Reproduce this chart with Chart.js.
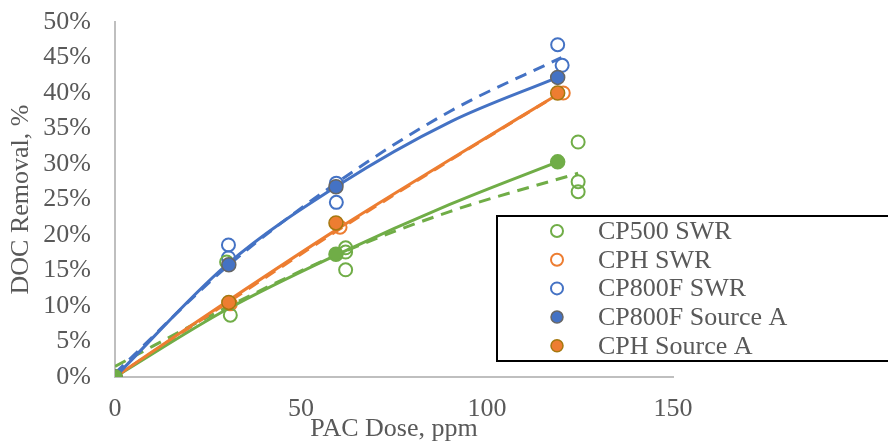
<!DOCTYPE html>
<html>
<head>
<meta charset="utf-8">
<script src="https://cdn.jsdelivr.net/npm/chart.js@4.4.1/dist/chart.umd.min.js"></script>
<style>
  html, body { margin: 0; padding: 0; background: #fff; }
  #wrap { width: 888px; height: 445px; position: relative; overflow: hidden; }
</style>
</head>
<body>
<div id="wrap"><canvas id="pacChart"></canvas></div>
<script>
// PAC dose (ppm) vs DOC removal (%)
var cp500SwrDose     = [0, 30, 31, 62, 62, 62, 124.5, 124.5, 124.5];
var cp500SwrRemoval  = [0, 16.2, 8.7, 18.2, 17.6, 15.1, 33.1, 27.5, 26.1];
var cphSwrDose       = [0, 31, 60.5, 120.5];
var cphSwrRemoval    = [0, 10.3, 21.1, 40.0];
var cp800fSwrDose    = [0, 30.5, 30.5, 59.5, 59.5, 119, 120.2];
var cp800fSwrRemoval = [0, 18.6, 16.8, 27.3, 24.6, 46.8, 43.9];

var sourceADose      = [0, 30.6, 59.4, 119];
var cp800fSourceA    = [0, 15.8, 26.8, 42.2];
var cphSourceA       = [0, 10.5, 21.7, 40.0];
var cp500SourceADose = [0, 59.4, 119];
var cp500SourceA     = [0, 17.3, 30.3];

// trendlines: solid = Source A runs, dashed = SWR runs
var fitDose          = [0, 30, 60, 90, 119];
var cp800fAFit       = [0, 15.8, 27.0, 35.9, 42.2];
var cphAFit          = [0, 10.6, 20.9, 30.6, 39.8];
var cp500AFit        = [0, 9.5, 17.3, 24.3, 30.3];
var swrFitDose       = [0, 30, 60, 90, 120];
var cp800fSwrFit     = [0.5, 15.5, 27.5, 37.4, 45.0];
var cphSwrFit        = [0, 10.4, 20.7, 30.5, 40.1];
var cp500SwrFitDose  = [0, 30, 60, 90, 124.5];
var cp500SwrFit      = [1.5, 9.8, 17.3, 23.3, 28.7];

var xTicks = [0, 50, 100, 150];

var BLUE = '#4472C4', ORANGE = '#ED7D31', GREEN = '#70AD47', TEXT = '#595959';
var FONT_FAMILY = '"Liberation Serif", "Times New Roman", serif';

function pts(xs, ys) {
  return xs.map(function (x, i) { return { x: x, y: ys[i] }; });
}

function openSeries(label, xs, ys, color, row) {
  return {
    label: label, data: pts(xs, ys), showLine: false,
    pointStyle: 'circle', pointRadius: 6.5, pointBorderWidth: 2,
    pointBackgroundColor: 'rgba(0,0,0,0)', pointBorderColor: color,
    legendRow: row, order: 3
  };
}

function filledSeries(label, xs, ys, fill, edge, row, order) {
  return {
    label: label, data: pts(xs, ys), showLine: false,
    pointStyle: 'circle', pointRadius: 7, pointBorderWidth: 1.5,
    pointBackgroundColor: fill, pointBorderColor: edge,
    legendRow: row, order: order
  };
}

function fitLine(xs, ys, color, dashed) {
  return {
    label: '', data: pts(xs, ys), showLine: true,
    borderColor: color, borderWidth: 3,
    borderDash: dashed ? [12, 8] : [],
    cubicInterpolationMode: 'monotone',
    pointRadius: 0, pointHoverRadius: 0, order: 2
  };
}

var datasets = [
  openSeries('CP500 SWR', cp500SwrDose, cp500SwrRemoval, GREEN, 0),
  openSeries('CPH SWR', cphSwrDose, cphSwrRemoval, ORANGE, 1),
  openSeries('CP800F SWR', cp800fSwrDose, cp800fSwrRemoval, BLUE, 2),
  filledSeries('CP800F Source A', sourceADose, cp800fSourceA, BLUE, '#666666', 3, 1),
  filledSeries('CPH Source A', sourceADose, cphSourceA, ORANGE, '#A5780F', 4, 1),
  filledSeries('CP500 Source A', cp500SourceADose, cp500SourceA, GREEN, GREEN, undefined, 0),
  fitLine(fitDose, cp800fAFit, BLUE, false),
  fitLine(fitDose, cphAFit, ORANGE, false),
  fitLine(fitDose, cp500AFit, GREEN, false),
  fitLine(swrFitDose, cp800fSwrFit, BLUE, true),
  fitLine(swrFitDose, cphSwrFit, ORANGE, true),
  fitLine(cp500SwrFitDose, cp500SwrFit, GREEN, true)
];

// boxed legend sitting over the lower right of the plot
var boxLegend = {
  id: 'boxLegend',
  afterDraw: function (chart) {
    var ctx = chart.ctx;
    var items = chart.data.datasets.filter(function (d) { return d.legendRow !== undefined; });
    ctx.save();
    ctx.fillStyle = '#fff';
    ctx.fillRect(497, 216, 400, 145);
    ctx.lineWidth = 2;
    ctx.strokeStyle = '#000';
    ctx.strokeRect(497, 216, 400, 145);
    ctx.font = '26px ' + FONT_FAMILY;
    ctx.textBaseline = 'middle';
    ctx.textAlign = 'left';
    items.forEach(function (d) {
      var y = 231 + d.legendRow * 28.7;
      ctx.beginPath();
      ctx.arc(557, y, 6, 0, Math.PI * 2);
      ctx.fillStyle = d.pointBackgroundColor;
      ctx.fill();
      ctx.lineWidth = d.pointBorderWidth;
      ctx.strokeStyle = d.pointBorderColor;
      ctx.stroke();
      ctx.fillStyle = TEXT;
      ctx.fillText(d.label, 598, y + 1);
    });
    ctx.restore();
  }
};

var serif = { family: FONT_FAMILY, size: 26 };

new Chart(document.getElementById('pacChart'), {
  type: 'scatter',
  data: { datasets: datasets },
  options: {
    responsive: true,
    maintainAspectRatio: false,
    animation: false,
    layout: { padding: { top: 22, right: 215, bottom: 0, left: 0 } },
    plugins: { legend: { display: false }, tooltip: { enabled: false } },
    scales: {
      x: {
        type: 'linear', min: 0, max: 150,
        afterBuildTicks: function (s) { s.ticks = xTicks.map(function (v) { return { value: v }; }); },
        afterFit: function (s) { s.height = 68; },
        grid: { display: false, drawTicks: false },
        border: { display: true, color: '#BFBFBF', width: 2 },
        ticks: { color: TEXT, font: serif, padding: 17, maxRotation: 0, autoSkip: false },
        title: { display: true, text: 'PAC Dose, ppm', color: TEXT, font: serif, padding: 0 }
      },
      y: {
        type: 'linear', min: 0, max: 50,
        ticks: {
          stepSize: 5, color: TEXT, font: serif, padding: 24, autoSkip: false,
          callback: function (v) { return v + '%'; }
        },
        afterFit: function (s) {
          s.width = 115;
          s.paddingTop = 0;
          s.paddingBottom = 0;
        },
        grid: { display: false, drawTicks: false },
        border: { display: true, color: '#BFBFBF', width: 2 },
        title: { display: true, text: 'DOC Removal, %', color: TEXT, font: serif, padding: { top: 6, bottom: 0 } }
      }
    }
  },
  plugins: [boxLegend]
});
</script>
</body>
</html>
